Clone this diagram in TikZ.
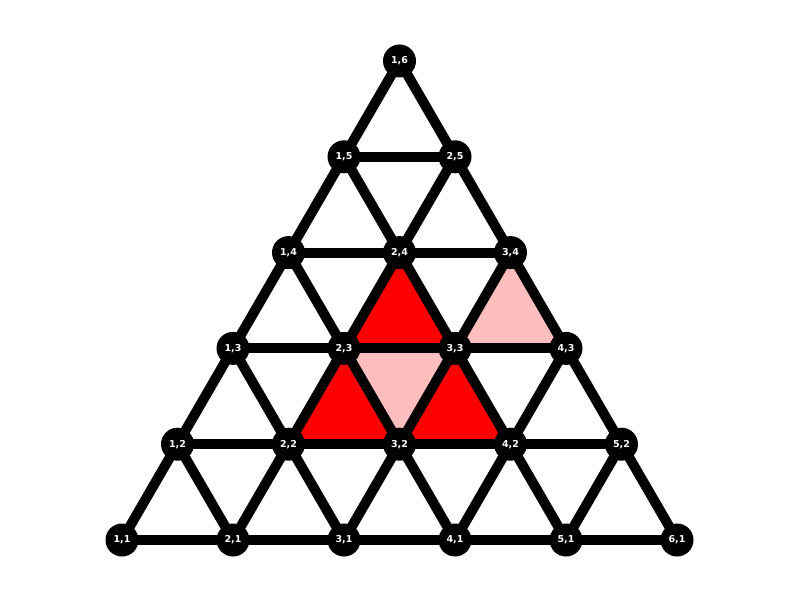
\documentclass[tikz,border=0pt]{standalone}
\usepackage{fontspec}
\setmainfont{DejaVu Sans}
\begin{document}
\begin{tikzpicture}[x=1pt,y=1pt,
  edge/.style={line width=10pt},
  vert/.style={circle,fill=black,minimum size=33pt,inner sep=0pt,text=white,font=\bfseries\fontsize{9.5}{10}\selectfont},
  darktri/.style={fill=red},
  lighttri/.style={fill={rgb,255:red,255;green,190;blue,190}}]
\useasboundingbox (0,0) rectangle (800,600);
% coordinates
\foreach \j in {1,...,6}{
  \pgfmathtruncatemacro{\imax}{7-\j}
  \foreach \i in {1,...,\imax}{
    \coordinate (p\i\j) at ({122+111*(\i-1)+55.5*(\j-1)},{60+95.8*(\j-1)});
  }
}
% filled triangles
\fill[darktri] (p23) -- (p33) -- (p24) -- cycle;
\fill[darktri] (p22) -- (p32) -- (p23) -- cycle;
\fill[darktri] (p32) -- (p42) -- (p33) -- cycle;
\fill[lighttri] (p23) -- (p33) -- (p32) -- cycle;
\fill[lighttri] (p33) -- (p43) -- (p34) -- cycle;
% edges
\foreach \j in {1,...,5}{
  \pgfmathtruncatemacro{\imax}{6-\j}
  \foreach \i in {1,...,\imax}{
    \pgfmathtruncatemacro{\ii}{\i+1}
    \pgfmathtruncatemacro{\jj}{\j+1}
    \draw[edge] (p\i\j) -- (p\ii\j);
    \draw[edge] (p\i\j) -- (p\i\jj);
    \draw[edge] (p\ii\j) -- (p\i\jj);
  }
}
% vertices
\foreach \j in {1,...,6}{
  \pgfmathtruncatemacro{\imax}{7-\j}
  \foreach \i in {1,...,\imax}{
    \node[vert] (n\i\j) at (p\i\j) {\i,\j};
  }
}
\end{tikzpicture}
\end{document}
